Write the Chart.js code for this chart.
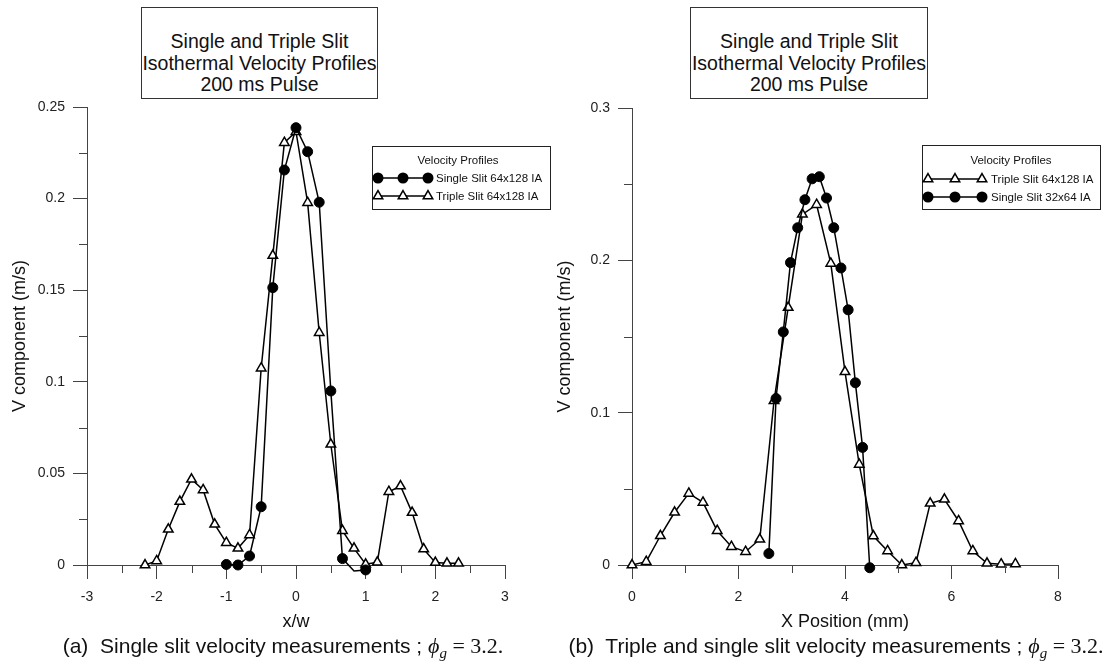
<!DOCTYPE html>
<html>
<head>
<meta charset="utf-8">
<script src="https://cdn.jsdelivr.net/npm/chart.js@4.4.1/dist/chart.umd.min.js"></script>
<style>
  html, body { margin: 0; padding: 0; background: #fff; }
  #page { position: relative; width: 1110px; height: 668px; overflow: hidden;
          font-family: "Liberation Sans", Arial, sans-serif; color: #111; }
  canvas { position: absolute; top: 0; }
  .tbox { position: absolute; top: 7px; height: 92px; box-sizing: border-box;
          border: 1px solid #333; background: #fff; text-align: center;
          font-size: 19.5px; line-height: 21.5px; padding-top: 23px; white-space: nowrap; }
  .cap { position: absolute; top: 633px; font-size: 21px; white-space: nowrap;
         transform: translateX(-50%); }
  .m { font-family: "Liberation Serif", "DejaVu Serif", serif; font-size: 22px; }
  .m sub { font-size: 15px; }
</style>
</head>
<body>
<div id="page">
  <canvas id="left" width="555" height="634" style="left:0px"></canvas>
  <canvas id="right" width="570" height="634" style="left:540px"></canvas>

  <div class="tbox" style="left:141px;width:237px">Single and Triple Slit<br>Isothermal Velocity Profiles<br>200 ms Pulse</div>
  <div class="tbox" style="left:690px;width:238px">Single and Triple Slit<br>Isothermal Velocity Profiles<br>200 ms Pulse</div>

  <div class="cap" style="left:283px">(a)&nbsp; Single slit velocity measurements ; <span class="m"><i>ϕ</i><sub><i>g</i></sub> = 3.2.</span></div>
  <div class="cap" style="left:836px">(b)&nbsp; Triple and single slit velocity measurements ; <span class="m"><i>ϕ</i><sub><i>g</i></sub> = 3.2.</span></div>
</div>

<script>
// ---- Panel (a): normalised position x/w ----
const leftCircleX = [-1, -0.833, -0.667, -0.5, -0.333, -0.167, 0, 0.167, 0.333, 0.5, 0.667, 0.833, 1];
const leftCircleV = [0.0003, 0, 0.0049, 0.0318, 0.1514, 0.2156, 0.2387, 0.2256, 0.198, 0.095, 0.0035, -0.0033, -0.0027];

const leftTriX = [-2.167, -2, -1.833, -1.667, -1.5, -1.333, -1.167, -1, -0.833, -0.667, -0.5, -0.333, -0.167, 0,
                  0.167, 0.333, 0.5, 0.667, 0.833, 1, 1.167, 1.333, 1.5, 1.667, 1.833, 2, 2.167, 2.333];
const leftTriV = [0, 0.0022, 0.0195, 0.0346, 0.0468, 0.041, 0.0222, 0.0122, 0.0091, 0.0164, 0.1074, 0.1689, 0.2305, 0.2365,
                  0.1978, 0.1268, 0.0659, 0.0187, 0.0091, 0.0004, 0.0015, 0.040, 0.0431, 0.0286, 0.0087, 0.0013, 0.0009, 0.0009];

// ---- Panel (b): position in mm ----
const rightTriX = [0, 0.267, 0.533, 0.8, 1.067, 1.333, 1.6, 1.867, 2.133, 2.4, 2.667, 2.933, 3.2, 3.467,
                   3.733, 4.0, 4.267, 4.533, 4.8, 5.067, 5.333, 5.6, 5.867, 6.133, 6.4, 6.667, 6.933, 7.2];
const rightTriV = [0, 0.0022, 0.0192, 0.0346, 0.047, 0.0411, 0.0225, 0.012, 0.0087, 0.0169, 0.1078, 0.169, 0.2302, 0.2365,
                   0.198, 0.1268, 0.066, 0.019, 0.0092, 0, 0.0015, 0.0405, 0.0431, 0.0289, 0.0092, 0.0011, 0.0005, 0.0007];

const rightCircleX = [2.570, 2.705, 2.841, 2.976, 3.112, 3.247, 3.382, 3.518, 3.653, 3.789, 3.924, 4.059, 4.195, 4.330, 4.465];
const rightCircleV = [0.0075, 0.1093, 0.153, 0.1985, 0.2214, 0.2398, 0.2535, 0.2549, 0.2409, 0.2214, 0.195, 0.1675, 0.1196, 0.0772, -0.0018];

// ---- Tick values and labels ----
const leftXTicks  = [-3, -2, -1, 0, 1, 2, 3];
const leftXLabels = ['-3', '-2', '-1', '0', '1', '2', '3'];
const leftXMinor  = [-2.5, -1.5, -0.5, 0.5, 1.5, 2.5];
const leftYTicks  = [0, 0.05, 0.1, 0.15, 0.2, 0.25];
const leftYLabels = ['0', '0.05', '0.1', '0.15', '0.2', '0.25'];
const leftYMinor  = [0.025, 0.075, 0.125, 0.175, 0.225];

const rightXTicks  = [0, 2, 4, 6, 8];
const rightXLabels = ['0', '2', '4', '6', '8'];
const rightXMinor  = [1, 3, 5, 7];
const rightYTicks  = [0, 0.1, 0.2, 0.3];
const rightYLabels = ['0', '0.1', '0.2', '0.3'];
const rightYMinor  = [0.05, 0.15, 0.25];

const FONT = '"Liberation Sans", Arial, sans-serif';
const AXIS_COLOR = '#444';

function pairs(xs, ys) { return xs.map((x, i) => ({ x: x, y: ys[i] })); }

function circleSeries(label, xs, ys, order) {
  return {
    label: label, data: pairs(xs, ys), order: order,
    showLine: true, borderColor: '#000', borderWidth: 1.5,
    pointStyle: 'circle', pointRadius: 5, pointBackgroundColor: '#000',
    pointBorderColor: '#000', pointBorderWidth: 1, clip: false
  };
}
function triangleSeries(label, xs, ys, order) {
  return {
    label: label, data: pairs(xs, ys), order: order,
    showLine: true, borderColor: '#000', borderWidth: 1.5,
    pointStyle: 'triangle', pointRadius: 5.5, pointBackgroundColor: '#fff',
    pointBorderColor: '#000', pointBorderWidth: 1.5, clip: false
  };
}

function drawMarker(ctx, style, x, y) {
  ctx.beginPath();
  if (style === 'circle') {
    ctx.arc(x, y, 5.5, 0, Math.PI * 2);
    ctx.fillStyle = '#000'; ctx.fill();
  } else {
    const r = 5.5, s = Math.sin(Math.PI / 3) * r;
    ctx.moveTo(x, y - r); ctx.lineTo(x + s, y + r / 2); ctx.lineTo(x - s, y + r / 2); ctx.closePath();
    ctx.fillStyle = '#fff'; ctx.fill();
    ctx.lineWidth = 1.5; ctx.strokeStyle = '#000'; ctx.stroke();
  }
}

// Minor ticks on both axes plus the boxed legend
const frameExtras = {
  id: 'frameExtras',
  afterDraw(chart, args, opts) {
    const ctx = chart.ctx, xs = chart.scales.x, ys = chart.scales.y;
    ctx.save();
    ctx.strokeStyle = AXIS_COLOR; ctx.lineWidth = 1;
    ctx.beginPath();
    opts.xMinor.forEach(v => {
      const p = Math.round(xs.getPixelForValue(v)) + 0.5;
      ctx.moveTo(p, xs.top); ctx.lineTo(p, xs.top + 8);
    });
    opts.yMinor.forEach(v => {
      const p = Math.round(ys.getPixelForValue(v)) + 0.5;
      ctx.moveTo(ys.right - 8, p); ctx.lineTo(ys.right, p);
    });
    ctx.stroke();

    const L = opts.legend;
    ctx.fillStyle = '#fff';
    ctx.fillRect(L.x, L.y, L.w, L.h);
    ctx.strokeStyle = '#222'; ctx.lineWidth = 1;
    ctx.strokeRect(L.x + 0.5, L.y + 0.5, L.w, L.h);
    ctx.fillStyle = '#111';
    ctx.font = '11.5px ' + FONT;
    ctx.textBaseline = 'middle';
    ctx.textAlign = 'center';
    ctx.fillText(L.title, L.titleX, L.titleY);
    ctx.textAlign = 'left';
    L.rows.forEach(row => {
      const ds = chart.data.datasets[row.ds];
      ctx.beginPath();
      ctx.moveTo(L.mx[0], row.y); ctx.lineTo(L.mx[2], row.y);
      ctx.strokeStyle = '#000'; ctx.lineWidth = 1.5; ctx.stroke();
      L.mx.forEach(mx => drawMarker(ctx, ds.pointStyle, mx, row.y));
      ctx.fillStyle = '#111';
      ctx.fillText(ds.label, L.textX, row.y + 0.5);
    });
    ctx.restore();
  }
};

function linearAxis(cfg) {
  return {
    type: 'linear', min: cfg.min, max: cfg.max,
    afterBuildTicks: s => { s.ticks = cfg.ticks.map(v => ({ value: v })); },
    afterFit: s => { if (cfg.width != null) s.width = cfg.width; if (cfg.height != null) s.height = cfg.height; },
    ticks: {
      autoSkip: false, maxRotation: 0, padding: cfg.tickPad, color: '#222',
      font: { family: FONT, size: 14 },
      callback: (v, i) => cfg.labels[i]
    },
    grid: { display: true, drawOnChartArea: false, drawTicks: true, tickLength: 14,
            color: AXIS_COLOR, tickColor: AXIS_COLOR, lineWidth: 1 },
    border: { display: true, color: AXIS_COLOR, width: 1 },
    title: { display: true, text: cfg.title, color: '#111',
             font: { family: FONT, size: 18 }, padding: cfg.titlePad }
  };
}

function build(canvasId, p) {
  return new Chart(document.getElementById(canvasId), {
    type: 'scatter',
    data: { datasets: p.datasets },
    options: {
      responsive: false, animation: false, events: [],
      layout: { padding: p.padding },
      plugins: { legend: { display: false }, tooltip: { enabled: false }, title: { display: false },
                 frameExtras: p.extras },
      scales: { x: p.x, y: p.y }
    },
    plugins: [frameExtras]
  });
}

build('left', {
  padding: { top: 107, right: 50, left: 0, bottom: 0 },
  datasets: [
    circleSeries('Single Slit 64x128 IA', leftCircleX, leftCircleV, 0),
    triangleSeries('Triple Slit 64x128 IA', leftTriX, leftTriV, 1)
  ],
  x: linearAxis({ min: -3, max: 3, ticks: leftXTicks, labels: leftXLabels, height: 69, tickPad: 10,
                  title: 'x/w', titlePad: { top: 2, bottom: 1 } }),
  y: linearAxis({ min: 0, max: 0.25, ticks: leftYTicks, labels: leftYLabels, width: 87, tickPad: 8,
                  title: 'V component (m/s)', titlePad: { top: 9, bottom: 0 } }),
  extras: {
    xMinor: leftXMinor, yMinor: leftYMinor,
    legend: { x: 372, y: 146, w: 178, h: 63, title: 'Velocity Profiles', titleX: 458, titleY: 161,
              mx: [378, 403, 428], textX: 436, rows: [{ ds: 0, y: 178 }, { ds: 1, y: 196 }] }
  }
});

build('right', {
  padding: { top: 108, right: 52, left: 0, bottom: 0 },
  datasets: [
    circleSeries('Single Slit 32x64 IA', rightCircleX, rightCircleV, 0),
    triangleSeries('Triple Slit 64x128 IA', rightTriX, rightTriV, 1)
  ],
  x: linearAxis({ min: 0, max: 8, ticks: rightXTicks, labels: rightXLabels, height: 69, tickPad: 10,
                  title: 'X Position (mm)', titlePad: { top: 2, bottom: 1 } }),
  y: linearAxis({ min: 0, max: 0.3, ticks: rightYTicks, labels: rightYLabels, width: 92, tickPad: 8,
                  title: 'V component (m/s)', titlePad: { top: 14, bottom: 0 } }),
  extras: {
    xMinor: rightXMinor, yMinor: rightYMinor,
    legend: { x: 382, y: 145, w: 178, h: 64, title: 'Velocity Profiles', titleX: 471, titleY: 161,
              mx: [388, 415, 442], textX: 451, rows: [{ ds: 1, y: 179 }, { ds: 0, y: 197 }] }
  }
});
</script>
</body>
</html>
